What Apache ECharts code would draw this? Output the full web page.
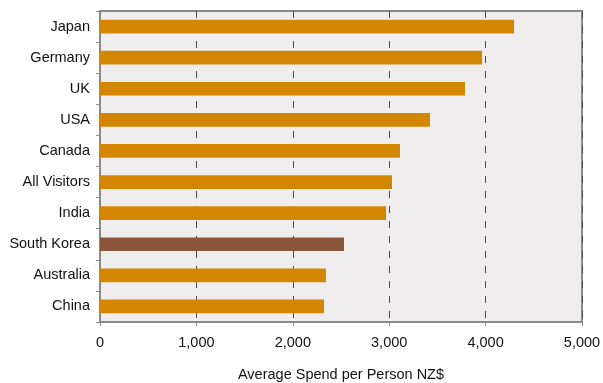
<!DOCTYPE html>
<html>
<head>
<meta charset="utf-8">
<script src="https://cdn.jsdelivr.net/npm/echarts@6/dist/echarts.min.js"></script>
<style>
  html, body { margin: 0; padding: 0; background: #ffffff; }
  #chart { width: 603px; height: 383px; }
</style>
</head>
<body>
<div id="chart"></div>
<script>
// Average spend per visitor by origin market (NZ$), top to bottom
const countries = ['Japan', 'Germany', 'UK', 'USA', 'Canada', 'All Visitors', 'India', 'South Korea', 'Australia', 'China'];
const spend = [4295, 3963, 3786, 3423, 3112, 3029, 2967, 2531, 2344, 2324];
const xTicks = [0, 1000, 2000, 3000, 4000, 5000];
const highlighted = 'South Korea';

const barColor = '#D38700';
const highlightColor = '#8C563B';
const labelFont = 14.5;

const seriesData = countries.map((c, i) => ({
  value: spend[i],
  itemStyle: { color: c === highlighted ? highlightColor : barColor }
}));

const chart = echarts.init(document.getElementById('chart'), null, { renderer: 'canvas' });
chart.setOption({
  animation: false,
  textStyle: { fontFamily: 'Liberation Sans, Arial, sans-serif' },
  grid: {
    left: 100, right: 21, top: 11, bottom: 61,
    outerBoundsMode: 'none',
    containLabel: false,
    show: true,
    backgroundColor: '#EFEDEE',
    borderColor: '#8A8A8A',
    borderWidth: 2
  },
  xAxis: {
    type: 'value',
    min: xTicks[0],
    max: xTicks[xTicks.length - 1],
    interval: 1000,
    name: 'Average Spend per Person NZ$',
    nameLocation: 'middle',
    nameGap: 45,
    nameTextStyle: { fontSize: labelFont, color: '#111' },
    axisLine: { show: true, lineStyle: { color: '#8A8A8A', width: 2 } },
    axisTick: { show: true, length: 4, lineStyle: { color: '#8A8A8A', width: 1 } },
    axisLabel: {
      fontSize: labelFont, color: '#111', margin: 13,
      formatter: v => v.toLocaleString('en-US')
    },
    splitLine: {
      show: true,
      lineStyle: { color: '#4A4A4A', width: 1, type: [7, 8] }
    }
  },
  yAxis: {
    type: 'category',
    inverse: true,
    data: countries,
    axisLine: { show: true, lineStyle: { color: '#8A8A8A', width: 2 } },
    axisTick: { show: true, length: 4, lineStyle: { color: '#8A8A8A', width: 1 } },
    axisLabel: { fontSize: labelFont, color: '#111', margin: 10 },
    splitLine: { show: false }
  },
  series: [{
    type: 'bar',
    data: seriesData,
    barWidth: '44%',
    z: 3
  }]
});
</script>
</body>
</html>
